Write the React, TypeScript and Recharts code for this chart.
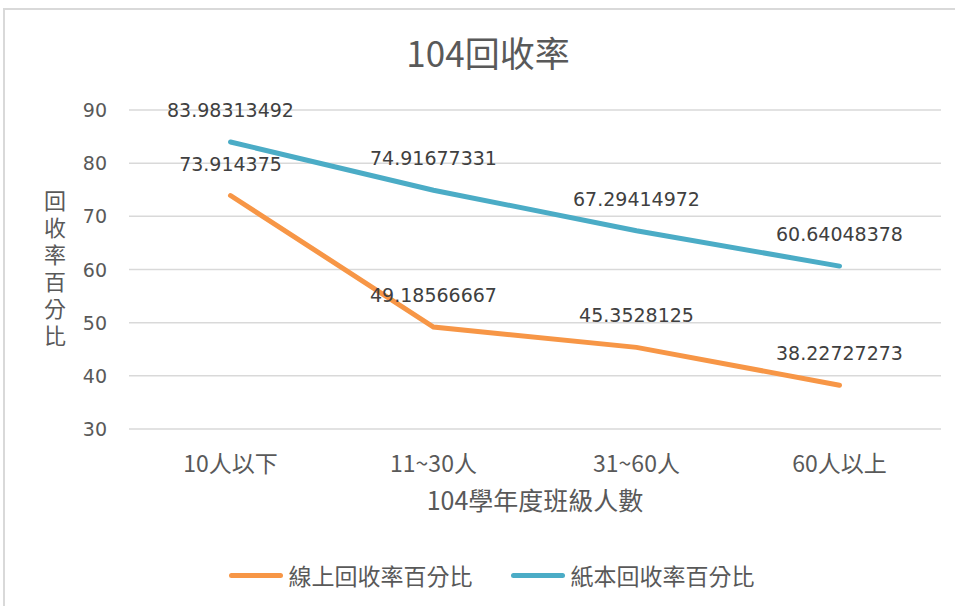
import React from 'react';
import { LineChart, Line, XAxis, YAxis, CartesianGrid, LabelList } from 'recharts';

const categories = ['10人以下', '11~30人', '31~60人', '60人以上'];
const onlineRates = [73.914375, 49.18566667, 45.3528125, 38.22727273];
const paperRates = [83.98313492, 74.91677331, 67.29414972, 60.64048378];
const yTicks = [30, 40, 50, 60, 70, 80, 90];
const seriesNames = ['線上回收率百分比', '紙本回收率百分比'];
const chartTitle = '104回收率';
const xTitle = '104學年度班級人數';
const yTitle = '回收率百分比';

const data = categories.map((c, i) => ({ name: c, online: onlineRates[i], paper: paperRates[i] }));

const ORANGE = '#F79646';
const TEAL = '#4BACC6';
const TEXT = '#595959';
const CJK = '"Noto Sans CJK TC", "Noto Sans", sans-serif';
const NUM = '"DejaVu Sans", sans-serif';

const renderLabel = (props: any) => {
  const { x, y, value } = props;
  return (
    <text x={x} y={y - 32} textAnchor="middle" dominantBaseline="central" fill="#404040" fontSize={19} fontFamily={NUM}>
      {String(value)}
    </text>
  );
};

const XTick = (props: any) => {
  const { x, y, payload } = props;
  return (
    <text x={x} y={y + 33} textAnchor="middle" dominantBaseline="central" fill={TEXT} fontSize={23} fontFamily={CJK}>
      {payload.value}
    </text>
  );
};

const YTick = (props: any) => {
  const { x, y, payload } = props;
  return (
    <text x={x - 22} y={y} textAnchor="end" dominantBaseline="central" fill={TEXT} fontSize={19} fontFamily={NUM}>
      {payload.value}
    </text>
  );
};

const YLabel = () => (
  <text
    x={55}
    y={190}
    fill={TEXT}
    fontSize={22}
    fontFamily={CJK}
    style={{ writingMode: 'vertical-rl', textOrientation: 'upright', letterSpacing: 5 } as any}
  >
    {yTitle}
  </text>
);

const XLabel = () => (
  <text x={535} y={499} textAnchor="middle" dominantBaseline="central" fill={TEXT} fontSize={25} fontFamily={CJK}>
    {xTitle}
  </text>
);

const LegendBlock = () => {
  const colors = [ORANGE, TEAL];
  return (
    <div style={{ position: 'absolute', left: 0, top: 560, width: 955, display: 'flex', justifyContent: 'center', alignItems: 'center', paddingLeft: 28, boxSizing: 'border-box' }}>
      {seriesNames.map((n, i) => (
        <div key={n} style={{ display: 'flex', alignItems: 'center', marginRight: i === 0 ? 38 : 0 }}>
          <div style={{ width: 54, height: 5, borderRadius: 3, background: colors[i], marginRight: 6 }} />
          <span style={{ fontFamily: CJK, fontSize: 23, color: TEXT, lineHeight: '30px' }}>{n}</span>
        </div>
      ))}
    </div>
  );
};

export default function App() {
  return (
    <div style={{ position: 'absolute', left: 0, top: 0, width: 955, height: 606, overflow: 'hidden', background: '#fff' }}>
      <div style={{ position: 'absolute', left: 3, top: 8, width: 1000, height: 700, border: '2px solid #d9d9d9', boxSizing: 'border-box' }} />
      <div style={{ position: 'absolute', left: 0, top: 30, width: 976, textAlign: 'center', fontFamily: CJK, fontSize: 35, color: TEXT, lineHeight: '44px' }}>
        {chartTitle}
      </div>
      <div style={{ position: 'absolute', left: 0, top: 0 }}>
        <LineChart width={955} height={606} data={data} margin={{ top: 110, right: 14, bottom: 176, left: 0 }}>
          <CartesianGrid vertical={false} stroke="#d9d9d9" strokeWidth={1.5} />
          <XAxis
            dataKey="name"
            height={1}
            axisLine={false}
            tickLine={false}
            tickSize={0}
            tickMargin={0}
            padding={{ left: 101.5, right: 101.5 }}
            tick={<XTick />}
            interval={0}
            label={<XLabel />}
          />
          <YAxis
            width={129}
            domain={[30, 90]}
            ticks={yTicks}
            axisLine={false}
            tickLine={false}
            tickSize={0}
            tickMargin={0}
            tick={<YTick />}
            label={<YLabel />}
          />
          <Line type="linear" dataKey="online" name={seriesNames[0]} stroke={ORANGE} strokeWidth={5} strokeLinecap="round" dot={false} isAnimationActive={false}>
            <LabelList dataKey="online" content={renderLabel} />
          </Line>
          <Line type="linear" dataKey="paper" name={seriesNames[1]} stroke={TEAL} strokeWidth={5} strokeLinecap="round" dot={false} isAnimationActive={false}>
            <LabelList dataKey="paper" content={renderLabel} />
          </Line>
        </LineChart>
      </div>
      <LegendBlock />
    </div>
  );
}
